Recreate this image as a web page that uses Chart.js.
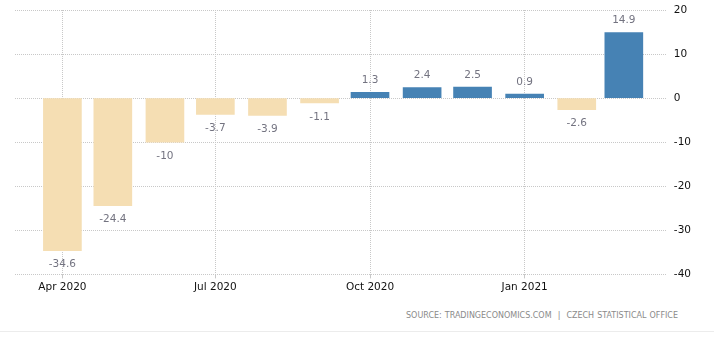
<!DOCTYPE html>
<html><head><meta charset="utf-8">
<script src="https://cdn.jsdelivr.net/npm/chart.js@4.4.1/dist/chart.umd.min.js"></script>
<style>
html,body{margin:0;padding:0;background:#fff;width:714px;height:352px;overflow:hidden;}
#wrap{position:absolute;left:0;top:0;width:714px;height:300px;}
#src{position:absolute;right:36px;top:311px;font:8px "DejaVu Sans",sans-serif;color:#8a8a8a;white-space:nowrap;word-spacing:0.5px;}
#line{position:absolute;left:0;top:331px;width:714px;height:1px;background:#ececec;}
</style></head>
<body>
<div id="wrap"><canvas id="c" width="714" height="300"></canvas></div>
<div id="src">SOURCE: TRADINGECONOMICS.COM &nbsp;|&nbsp; CZECH STATISTICAL OFFICE</div>
<div id="line"></div>
<script>
const months = ["2020-04-01","2020-05-01","2020-06-01","2020-07-01","2020-08-01","2020-09-01","2020-10-01","2020-11-01","2020-12-01","2021-01-01","2021-02-01","2021-03-01"];
const values = [-34.6,-24.4,-10,-3.7,-3.9,-1.1,1.3,2.4,2.5,0.9,-2.6,14.9];
const tickDates = ["2020-04-01","2020-07-01","2020-10-01","2021-01-01"];
const tickLabels = ["Apr 2020","Jul 2020","Oct 2020","Jan 2021"];
const yTicks = [20,10,0,-10,-20,-30,-40];

const DAY = 86400000;
const ts = s => Date.parse(s + "T00:00:00Z");
const points = months.map((m,i)=>({x:ts(m), y:values[i]}));

const labelPlugin = {
  id:'vlabels',
  afterDatasetsDraw(chart){
    const ctx = chart.ctx;
    const meta = chart.getDatasetMeta(0);
    ctx.save();
    ctx.font = '10.5px "DejaVu Sans"';
    ctx.fillStyle = '#737380';
    ctx.textAlign = 'center';
    ctx.textBaseline = 'middle';
    meta.data.forEach((bar,i)=>{
      const v = values[i];
      const y = v >= 0 ? bar.y - 12 : bar.y + 14;
      ctx.fillText(String(v), bar.x, y);
    });
    ctx.restore();
  }
};

new Chart(document.getElementById('c'), {
  type:'bar',
  data:{datasets:[{
    data:points,
    backgroundColor: ctx => (ctx.raw && ctx.raw.y >= 0) ? '#4682B4' : '#F5DEB3',
    barThickness:38,
    borderWidth:0
  }]},
  options:{
    responsive:false,
    animation:false,
    events:[],
    layout:{padding:{left:15,right:15,top:10,bottom:3}},
    plugins:{legend:{display:false},tooltip:{enabled:false}},
    scales:{
      x:{
        type:'linear',
        offset:false,
        min: ts("2020-04-01") - 28.2*DAY,
        max: ts("2021-03-01") + 25*DAY,
        afterBuildTicks(axis){ axis.ticks = tickDates.map(d=>({value:ts(d)})); },
        ticks:{
          callback:(v)=>{ const i = tickDates.findIndex(d=>ts(d)===v); return i>=0 ? tickLabels[i] : ''; },
          font:{family:'"DejaVu Sans"', size:10.5},
          color:'#111',
          padding:3,
          maxRotation:0,
          autoSkip:false
        },
        grid:{color:'#c8c8c8', tickLength:4, drawTicks:true, offset:false},
        border:{display:false, dash:[1,1]}
      },
      y:{
        position:'right',
        min:-40, max:20,
        afterBuildTicks(axis){ axis.ticks = yTicks.map(v=>({value:v})); },
        afterFit(axis){ axis.paddingTop = 0; axis.paddingBottom = 0; },
        ticks:{font:{family:'"DejaVu Sans"', size:10.5}, color:'#111', padding:8},
        grid:{color:'#c8c8c8', drawTicks:false},
        border:{display:false, dash:[1,1]}
      }
    }
  },
  plugins:[labelPlugin]
});
</script>
</body></html>
